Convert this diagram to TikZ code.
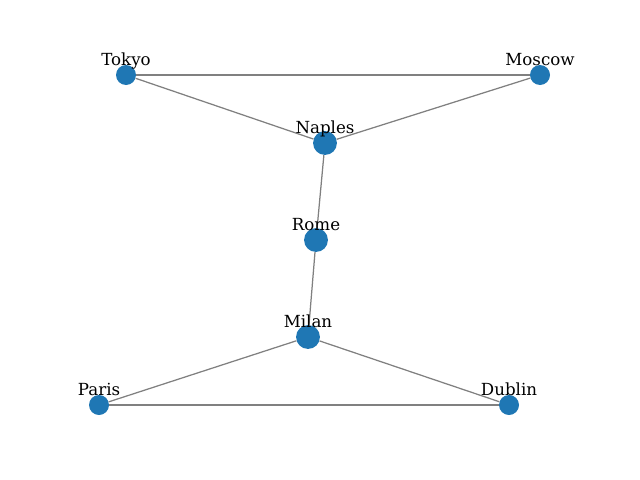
\documentclass[tikz,border=0pt]{standalone}
\usepackage{fontspec}
\setmainfont{DejaVu Serif}
\usepackage{xcolor}
\usepackage{tikz}
\usetikzlibrary{arrows,positioning,calc,shapes}

\definecolor{nodeblue}{HTML}{1F77B4}

\begin{document}
\begin{tikzpicture}[x=0.72pt,y=-0.72pt,
  city/.style={circle,fill=nodeblue,inner sep=0pt,minimum size=14.4pt},
  hub/.style={circle,fill=nodeblue,inner sep=0pt,minimum size=17.2pt},
  road/.style={draw=gray,line width=0.9pt},
  citytxt/.style={anchor=base,inner sep=0pt,font=\fontsize{12}{14}\selectfont}]
\useasboundingbox (0,0) rectangle (640,480);

% Cities
\node[city] (tokyo) at (126,75) {};
\node[city] (moscow) at (540,75) {};
\node[hub] (naples) at (325,143) {};
\node[hub] (rome) at (316,240) {};
\node[hub] (milan) at (308,337) {};
\node[city] (paris) at (99,405) {};
\node[city] (dublin) at (509,405) {};

% Roads
\draw[road] (tokyo) -- (moscow);
\draw[road] (tokyo) -- (naples);
\draw[road] (moscow) -- (naples);
\draw[road] (naples) -- (rome);
\draw[road] (rome) -- (milan);
\draw[road] (milan) -- (paris);
\draw[road] (milan) -- (dublin);
\draw[road] (paris) -- (dublin);

% Labels
\node[citytxt] (tokyotxt) at ([yshift=6.5pt]tokyo.center) {Tokyo};
\node[citytxt] (moscowtxt) at ([yshift=6.5pt]moscow.center) {Moscow};
\node[citytxt] (naplestxt) at ([yshift=6.5pt]naples.center) {Naples};
\node[citytxt] (rometxt) at ([yshift=6.5pt]rome.center) {Rome};
\node[citytxt] (milantxt) at ([yshift=6.5pt]milan.center) {Milan};
\node[citytxt] (paristxt) at ([yshift=6.5pt]paris.center) {Paris};
\node[citytxt] (dublintxt) at ([yshift=6.5pt]dublin.center) {Dublin};
\end{tikzpicture}
\end{document}
